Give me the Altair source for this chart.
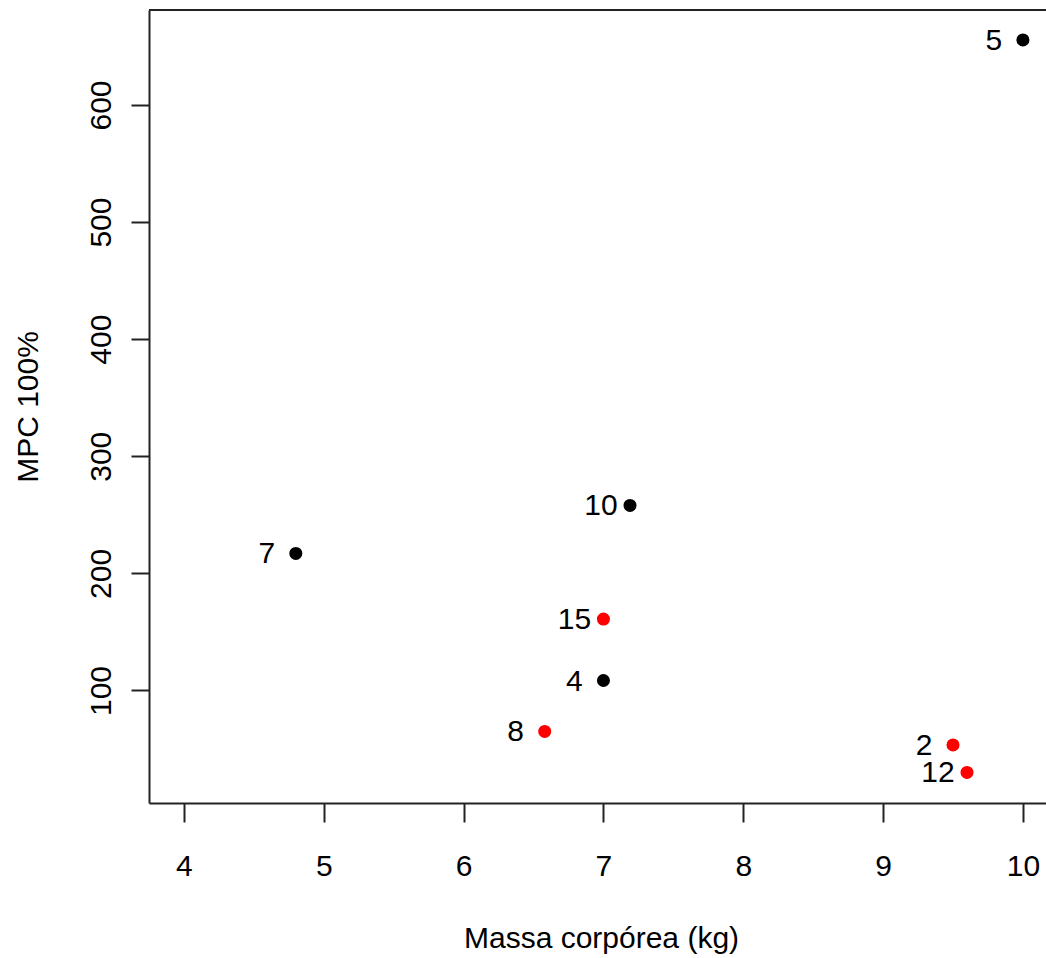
import altair as alt
import pandas as pd

# Data
massa = [10.0, 7.19, 4.8, 7.0, 7.0, 6.58, 9.5, 9.6]
mpc = [655.5, 258.0, 217.0, 161.0, 108.5, 65.0, 53.5, 30.0]
rotulos = ["5", "10", "7", "15", "4", "8", "2", "12"]
grupo = ["preto", "preto", "preto", "vermelho", "preto", "vermelho", "vermelho", "vermelho"]

x_ticks = [4, 5, 6, 7, 8, 9, 10]
y_ticks = [100, 200, 300, 400, 500, 600]

df = pd.DataFrame({"massa": massa, "mpc": mpc, "rotulo": rotulos, "grupo": grupo})

FONT = "Liberation Sans"
FS = 30
LINE = "#222222"

W, H = 897, 793

xscale = alt.Scale(domain=[3.75, 10.165], nice=False, zero=False)
yscale = alt.Scale(domain=[3.9, 681.1], nice=False, zero=False)

x_axis = alt.Axis(
    values=x_ticks, format="d", grid=False, title="Massa corpórea (kg)",
    tickSize=19, tickWidth=2, tickColor=LINE,
    domainColor=LINE, domainWidth=2,
    labelFont=FONT, labelFontSize=FS, labelColor="black",
    labelPadding=53, labelBaseline="alphabetic", labelFlush=False,
    labelOverlap=False,
    titleFont=FONT, titleFontSize=FS, titleFontWeight="normal", titleColor="black",
    titleX=452, titleY=144, titleAlign="center", titleBaseline="alphabetic",
)
y_axis = alt.Axis(
    values=y_ticks, format="d", grid=False, title="MPC 100%",
    tickSize=18, tickWidth=2, tickColor=LINE,
    domainColor=LINE, domainWidth=2,
    labelFont=FONT, labelFontSize=FS, labelColor="black",
    labelAngle=270, labelAlign="center", labelBaseline="alphabetic",
    labelPadding=21, labelFlush=False, labelOverlap=False,
    titleFont=FONT, titleFontSize=FS, titleFontWeight="normal", titleColor="black",
    titleAngle=270, titleX=-112, titleY=396.5, titleAlign="center", titleBaseline="alphabetic",
)

base = alt.Chart(df)

points = base.mark_circle(size=170, opacity=1).encode(
    x=alt.X("massa:Q", scale=xscale, axis=x_axis),
    y=alt.Y("mpc:Q", scale=yscale, axis=y_axis),
    color=alt.Color("grupo:N", scale=alt.Scale(domain=["preto", "vermelho"], range=["#000000", "#FF0000"]), legend=None),
)

labels = base.mark_text(
    dx=-29, dy=1, align="center", baseline="middle", font=FONT, fontSize=FS, color="black"
).encode(
    x=alt.X("massa:Q", scale=xscale),
    y=alt.Y("mpc:Q", scale=yscale),
    text="rotulo:N",
)

top_border = alt.Chart(pd.DataFrame({"a": [0]})).mark_rule(color=LINE, strokeWidth=2).encode(
    x=alt.value(0), x2=alt.value(W), y=alt.value(0)
)

chart = (
    alt.layer(top_border, points, labels)
    .properties(
        width=W, height=H,
        autosize=alt.AutoSizeParams(type="none"),
        padding={"left": 149, "top": 10, "right": 0, "bottom": 152},
        background="white",
    )
    .configure_view(strokeOpacity=0)
)

chart.save("out.html", embed_options={"renderer": "svg", "actions": False})
